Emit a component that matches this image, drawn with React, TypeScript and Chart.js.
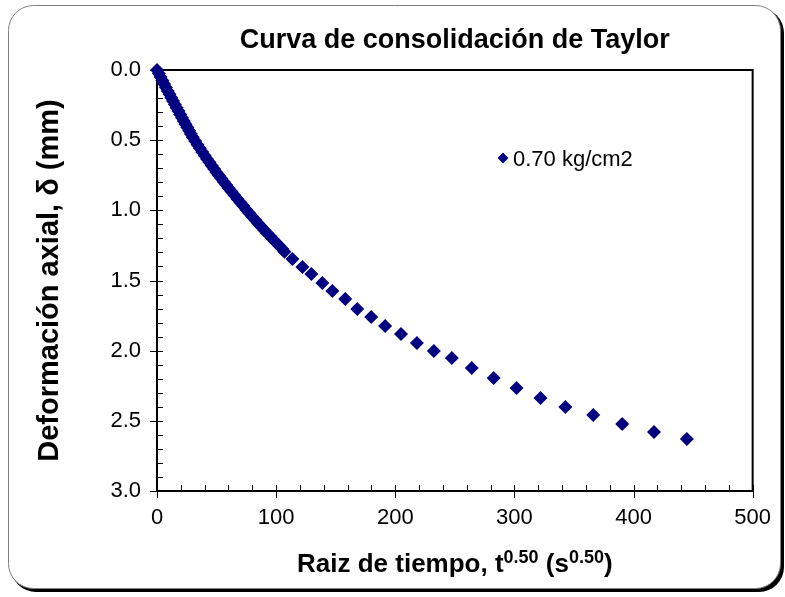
import React, { useEffect, useRef } from 'react';
import { Chart, registerables } from 'chart.js';

Chart.register(...registerables);

// ---- data ----
const chartTitle = 'Curva de consolidación de Taylor';
const seriesLabel = '0.70 kg/cm2';
const yTitle = 'Deformación axial, δ (mm)';

// square root of time, t^0.50 (s^0.50)
const sqrtTime: number[] = [
  0, 1.5, 3, 4.5, 6, 7.5, 9, 10.5, 12, 13.5, 15, 16.5, 18, 19.5, 21, 22.5, 24, 25.5, 27, 28.5,
  30, 32, 34, 36, 38, 40, 42, 44, 46, 48, 50, 52, 54, 56, 58, 60, 62.5, 65, 67.5, 70,
  72.5, 75, 77.5, 80, 82.5, 85, 87.5, 90, 92.5, 95, 97.5, 100, 102.5, 105,
  107.0, 113.7, 122.1, 129.6, 138.8, 147.2, 158.0, 168.1, 179.8, 191.5, 204.8, 218.2,
  232.4, 247.5, 264.2, 282.6, 301.8, 321.9, 342.8, 366.2, 390.5, 417.2, 444.8,
];
// axial deformation (mm)
const deformation: number[] = [
  0, 0.025, 0.05, 0.074, 0.099, 0.124, 0.149, 0.173, 0.197, 0.221, 0.245, 0.269, 0.293, 0.317, 0.341, 0.364, 0.387, 0.41, 0.433, 0.456,
  0.48, 0.506, 0.532, 0.558, 0.584, 0.61, 0.634, 0.658, 0.682, 0.706, 0.73, 0.752, 0.774, 0.796, 0.818, 0.84, 0.866, 0.893, 0.919, 0.945,
  0.97, 0.995, 1.02, 1.045, 1.069, 1.093, 1.117, 1.14, 1.163, 1.185, 1.208, 1.23, 1.252, 1.273,
  1.295, 1.347, 1.404, 1.454, 1.518, 1.575, 1.632, 1.703, 1.76, 1.824, 1.881, 1.945,
  2.002, 2.052, 2.124, 2.195, 2.266, 2.337, 2.401, 2.458, 2.523, 2.58, 2.63,
];

const xTicks: number[] = [0, 100, 200, 300, 400, 500];
const yTicks: number[] = [0, 0.5, 1, 1.5, 2, 2.5, 3];
const xMinorStep = 20;
const yMinorStep = 0.1;

const FONT = "'Liberation Sans', Arial, sans-serif";
const NAVY = '#000080';

function roundRectPath(ctx: CanvasRenderingContext2D, x: number, y: number, w: number, h: number, r: number) {
  ctx.beginPath();
  ctx.moveTo(x + r, y);
  ctx.lineTo(x + w - r, y);
  ctx.arcTo(x + w, y, x + w, y + r, r);
  ctx.lineTo(x + w, y + h - r);
  ctx.arcTo(x + w, y + h, x + w - r, y + h, r);
  ctx.lineTo(x + r, y + h);
  ctx.arcTo(x, y + h, x, y + h - r, r);
  ctx.lineTo(x, y + r);
  ctx.arcTo(x, y, x + r, y, r);
  ctx.closePath();
}

const decorPlugin = {
  id: 'decor',
  beforeDraw(chart: any) {
    const ctx: CanvasRenderingContext2D = chart.ctx;
    ctx.save();
    ctx.fillStyle = '#000';
    roundRectPath(ctx, 11, 8, 773, 584, 25);
    ctx.fill();
    ctx.fillStyle = '#fff';
    roundRectPath(ctx, 8.5, 5.5, 772, 583, 25);
    ctx.fill();
    ctx.strokeStyle = '#7f7f7f';
    ctx.lineWidth = 1;
    ctx.stroke();
    ctx.restore();
  },
  beforeDatasetsDraw(chart: any) {
    const ctx: CanvasRenderingContext2D = chart.ctx;
    const { left, top, right, bottom } = chart.chartArea;
    const xs = chart.scales.x;
    const ys = chart.scales.y;
    ctx.save();
    ctx.strokeStyle = '#000';
    ctx.lineWidth = 1;
    ctx.beginPath();
    const yMax = yTicks[yTicks.length - 1];
    for (let v = yMinorStep; v < yMax - 1e-6; v += yMinorStep) {
      const py = Math.round(ys.getPixelForValue(v)) + 0.5;
      ctx.moveTo(left, py);
      ctx.lineTo(left + 6, py);
    }
    for (const v of yTicks) {
      const py = Math.round(ys.getPixelForValue(v)) + 0.5;
      ctx.moveTo(left - 7, py);
      ctx.lineTo(left + 6, py);
    }
    const xMax = xTicks[xTicks.length - 1];
    for (let v = xMinorStep; v < xMax - 1e-6; v += xMinorStep) {
      const px = Math.round(xs.getPixelForValue(v)) + 0.5;
      ctx.moveTo(px, bottom);
      ctx.lineTo(px, bottom - 6);
    }
    for (const v of xTicks) {
      const px = Math.round(xs.getPixelForValue(v)) + 0.5;
      ctx.moveTo(px, bottom + 7);
      ctx.lineTo(px, bottom - 6);
    }
    ctx.stroke();
    ctx.lineWidth = 2;
    ctx.strokeRect(left, top, right - left, bottom - top);
    ctx.restore();
  },
  afterDraw(chart: any) {
    const ctx: CanvasRenderingContext2D = chart.ctx;
    const { left, top, right, bottom } = chart.chartArea;
    const cx = (left + right) / 2;
    ctx.save();
    ctx.fillStyle = '#000';
    // title
    ctx.font = `bold 27px ${FONT}`;
    ctx.textAlign = 'center';
    ctx.textBaseline = 'alphabetic';
    ctx.fillText(chartTitle, cx, 48);

    // x title with superscripts
    const parts = [
      { t: 'Raiz de tiempo, t', sup: false },
      { t: '0.50', sup: true },
      { t: ' (s', sup: false },
      { t: '0.50', sup: true },
      { t: ')', sup: false },
    ];
    const mainFont = `bold 26px ${FONT}`;
    const supFont = `bold 18px ${FONT}`;
    let total = 0;
    for (const p of parts) {
      ctx.font = p.sup ? supFont : mainFont;
      total += ctx.measureText(p.t).width;
    }
    let xx = cx - total / 2;
    ctx.textAlign = 'left';
    const base = 572;
    for (const p of parts) {
      ctx.font = p.sup ? supFont : mainFont;
      ctx.fillText(p.t, xx, p.sup ? base - 9 : base);
      xx += ctx.measureText(p.t).width;
    }

    // y title
    ctx.save();
    ctx.translate(58, (top + bottom) / 2);
    ctx.rotate(-Math.PI / 2);
    ctx.font = `bold 29px ${FONT}`;
    ctx.textAlign = 'center';
    ctx.fillText(yTitle, 0, 0);
    ctx.restore();

    // legend
    const lx = 503;
    const ly = 158;
    const r = 5.5;
    ctx.fillStyle = NAVY;
    ctx.beginPath();
    ctx.moveTo(lx - r, ly);
    ctx.lineTo(lx, ly - r);
    ctx.lineTo(lx + r, ly);
    ctx.lineTo(lx, ly + r);
    ctx.closePath();
    ctx.fill();
    ctx.fillStyle = '#000';
    ctx.font = `22px ${FONT}`;
    ctx.textAlign = 'left';
    ctx.fillText(seriesLabel, 513, 166);
    ctx.restore();
  },
};

export default function App() {
  const ref = useRef<HTMLCanvasElement | null>(null);
  useEffect(() => {
    if (!ref.current) return;
    const points = sqrtTime.map((x, i) => ({ x, y: deformation[i] }));
    const chart = new Chart(ref.current, {
      type: 'scatter',
      data: {
        datasets: [
          {
            label: seriesLabel,
            data: points,
            pointStyle: 'rectRot',
            pointRadius: 7,
            pointBorderWidth: 0,
            backgroundColor: NAVY,
            borderColor: NAVY,
            clip: false as any,
          },
        ],
      },
      options: {
        responsive: false,
        animation: false,
        layout: { padding: { left: 57, right: 30, top: 70, bottom: 56 } },
        plugins: {
          legend: { display: false },
          title: { display: false },
          tooltip: { enabled: false },
        },
        scales: {
          x: {
            type: 'linear',
            min: xTicks[0],
            max: xTicks[xTicks.length - 1],
            afterFit: (s: any) => { s.height = 50; },
            afterBuildTicks: (s: any) => { s.ticks = xTicks.map((v) => ({ value: v })); },
            grid: { display: false, drawTicks: false },
            border: { display: false },
            ticks: {
              autoSkip: false,
              maxRotation: 0,
              padding: 14,
              color: '#000',
              font: { family: FONT, size: 22 },
              callback: (v: any) => String(v),
            },
          },
          y: {
            type: 'linear',
            reverse: true,
            min: yTicks[0],
            max: yTicks[yTicks.length - 1],
            afterFit: (s: any) => { s.width = 100; },
            afterBuildTicks: (s: any) => { s.ticks = yTicks.map((v) => ({ value: v })); },
            grid: { display: false, drawTicks: false },
            border: { display: false },
            ticks: {
              autoSkip: false,
              padding: 16,
              color: '#000',
              font: { family: FONT, size: 22 },
              callback: (v: any) => Number(v).toFixed(1),
            },
          },
        },
      },
      plugins: [decorPlugin],
    });
    return () => chart.destroy();
  }, []);
  return (
    <div style={{ position: 'fixed', left: 0, top: 0, width: 785, height: 597 }}>
      <canvas ref={ref} width={785} height={597} style={{ display: 'block' }} />
    </div>
  );
}
